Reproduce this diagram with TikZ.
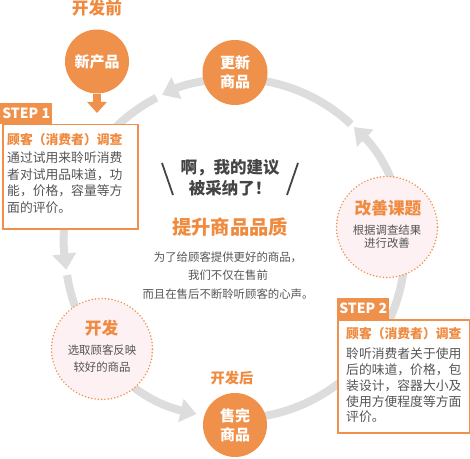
\documentclass[tikz,border=0pt]{standalone}
\usepackage{fontspec}
\setmainfont{Noto Sans CJK SC}
\usetikzlibrary{arrows.meta}
\definecolor{org}{HTML}{F0914B}
\definecolor{orgtxt}{HTML}{EF8A3F}
\definecolor{arcgray}{HTML}{DDDDDD}
\definecolor{txtgray}{HTML}{555555}
\definecolor{darktxt}{HTML}{444444}
\definecolor{pinkfill}{HTML}{FDF1F4}
\begin{document}
\begin{tikzpicture}[x=1pt,y=1pt,
  arcline/.style={draw=arcgray, line width=8pt},
  tipped/.style={arcline, -{Triangle[length=16pt,width=23pt]}},
  solidcirc/.style={circle, fill=org, minimum size=64pt, inner sep=0pt, text=white,
    font=\fontsize{15}{19.5}\selectfont\bfseries, align=center},
  dotcirc/.style={circle, fill=pinkfill, draw=org, line width=1.7pt,
    dash pattern=on 0pt off 3.3pt, line cap=round, minimum size=101pt, inner sep=0pt},
  steptab/.style={fill=org, text=white, font=\fontsize{14}{16}\selectfont\bfseries,
    anchor=south west, inner sep=0pt, minimum width=52pt, minimum height=21pt},
  stepbox/.style={draw=org, line width=1.5pt, fill=white, anchor=north west, inner sep=0pt},
  steptitle/.style={anchor=base west, inner sep=0pt, text=orgtxt,
    font=\fontsize{12.8}{15}\selectfont\bfseries},
  stepbody/.style={anchor=base west, inner sep=0pt, text=txtgray,
    font=\fontsize{12.8}{15}\selectfont},
  head/.style={anchor=base, inner sep=0pt, text=orgtxt, font=\fontsize{#1}{#1}\selectfont\bfseries},
  small/.style={anchor=base, inner sep=0pt, text=txtgray, font=\fontsize{11.4}{13}\selectfont},
  shout/.style={anchor=base, inner sep=0pt, text=darktxt, font=\fontsize{16.5}{18}\selectfont\bfseries},
  slash/.style={draw=darktxt, line width=1.8pt}
]
\useasboundingbox (0,0) rectangle (470,458);
\coordinate (C) at (235,209.5);

% cycle arc
\draw[tipped] (C) ++(90:170) arc[start angle=90, end angle=115.4, radius=170];
\draw[tipped] (C) ++(117.5:170) arc[start angle=117.5, end angle=187.2, radius=170];
\draw[tipped] (C) ++(189:170) arc[start angle=189, end angle=256.9, radius=170];
\draw[tipped] (C) ++(270:170) arc[start angle=270, end angle=405.6, radius=170];
\draw[arcline] (C) ++(407:170) arc[start angle=407, end angle=450, radius=170];

% top-left: new product
\node[head=16.7] (before) at (97,443) {开发前};
\node[solidcirc] (np) at (97,396.5) {新产品};
\coordinate (nptip) at (97,345);
\draw[draw=org, line width=8pt, -{Triangle[length=11pt,width=19pt]}] (np.south) -- (nptip);

% top: renew
\node[solidcirc, minimum size=65pt] (renew) at (235,385.5) {更新\\商品};

% bottom: sold out
\node[head=14.3] (after) at (232,74.6) {开发后};
\node[solidcirc] (sold) at (235,33) {售完\\商品};

% STEP 1
\node[stepbox, minimum width=135pt, minimum height=104pt] (box1) at (2,334) {};
\node[steptab] (tab1) at (0,334) {STEP 1};
\node[steptitle] (t1) at (7,313.2) {顾客（消费者）调查};
\node[stepbody] (b1a) at (7,295.2) {通过试用来聆听消费};
\node[stepbody] (b1b) at (7,278.7) {者对试用品味道，功};
\node[stepbody] (b1c) at (7,262.2) {能，价格，容量等方};
\node[stepbody] (b1d) at (7,245.7) {面的评价。};

% STEP 2
\node[stepbox, minimum width=132pt, minimum height=113pt] (box2) at (337,139) {};
\node[steptab] (tab2) at (337,139) {STEP 2};
\node[steptitle] (t2) at (346,119.2) {顾客（消费者）调查};
\node[stepbody] (b2a) at (346,99.2) {聆听消费者关于使用};
\node[stepbody] (b2b) at (346,83.5) {后的味道，价格，包};
\node[stepbody] (b2c) at (346,67.7) {装设计，容器大小及};
\node[stepbody] (b2d) at (346,52.0) {使用方便程度等方面};
\node[stepbody] (b2e) at (346,36.2) {评价。};

% improve
\node[dotcirc] (imp) at (387,231) {};
\node[head=16.7] (impt) at (388,243.7) {改善课题};
\node[small] (impa) at (387,223.7) {根据调查结果};
\node[small] (impb) at (387,210.7) {进行改善};

% develop
\node[dotcirc] (dev) at (102,109) {};
\node[head=16.7] (devt) at (101.5,123.7) {开发};
\node[small] (deva) at (102,103.7) {选取顾客反映};
\node[small] (devb) at (102,86.7) {较好的商品};

% centre
\node[shout] (s1) at (230,284.7) {啊，我的建议};
\node[shout] (s2) at (230,263.7) {被采纳了！};
\coordinate (l1) at (162,295); \coordinate (l2) at (173,263);
\coordinate (r1) at (298,295); \coordinate (r2) at (287,263);
\draw[slash] (l1) -- (l2);
\draw[slash] (r1) -- (r2);
\node[head=19.3] (ttl) at (230,223.7) {提升商品品质};
\node[small] (c1) at (228,196.9) {为了给顾客提供更好的商品，};
\node[small] (c2) at (228,178.1) {我们不仅在售前};
\node[small] (c3) at (228,159.3) {而且在售后不断聆听顾客的心声。};
\end{tikzpicture}
\end{document}
